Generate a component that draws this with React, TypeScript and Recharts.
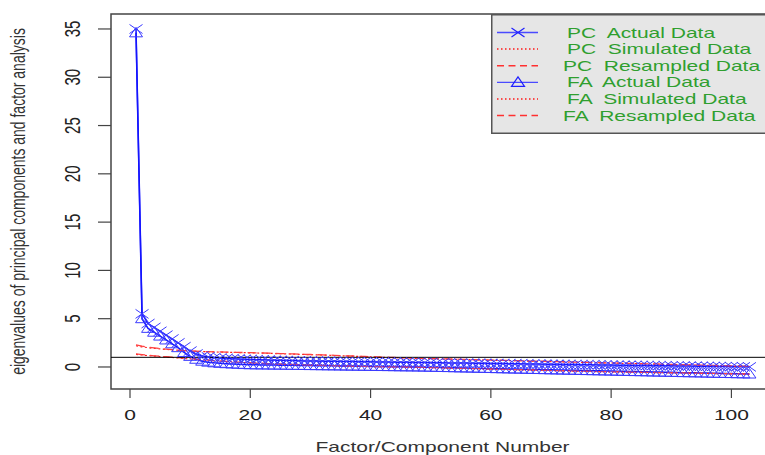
import React from 'react';
import { LineChart, Line, XAxis, YAxis, ReferenceLine, ReferenceArea, Legend } from 'recharts';

const pcActual = [
  35.0, 5.5, 4.5, 4.1, 3.7, 3.3, 2.9, 2.5, 2.1, 1.65, 1.35, 1.15,
  1.05, 0.98, 0.93, 0.89, 0.86, 0.83, 0.8, 0.78,
  0.76, 0.74, 0.72, 0.7, 0.69, 0.67, 0.66, 0.64, 0.63, 0.62,
  0.61, 0.6, 0.59, 0.585, 0.575, 0.565, 0.56, 0.55, 0.54, 0.535,
  0.525, 0.515, 0.51, 0.5, 0.49, 0.485, 0.475, 0.465, 0.46, 0.45,
  0.44, 0.435, 0.425, 0.415, 0.41, 0.4, 0.39, 0.385, 0.375, 0.365,
  0.36, 0.35, 0.34, 0.335, 0.325, 0.315, 0.31, 0.3, 0.29, 0.285,
  0.275, 0.265, 0.26, 0.25, 0.24, 0.235, 0.225, 0.215, 0.21, 0.2,
  0.19, 0.185, 0.175, 0.165, 0.16, 0.15, 0.14, 0.135, 0.125, 0.115,
  0.11, 0.1, 0.09, 0.085, 0.075, 0.065, 0.06, 0.05, 0.04, 0.035,
  0.025, 0.015, 0.01,
];

const pcSimulated = [
  2.2, 2.08, 2.0, 1.93, 1.87, 1.82, 1.77, 1.73, 1.69, 1.65, 1.62, 1.59,
  1.57, 1.555, 1.54, 1.525, 1.51, 1.495, 1.48, 1.465, 1.45, 1.435,
  1.415, 1.395, 1.375, 1.355, 1.335, 1.315, 1.295, 1.275, 1.255, 1.235,
  1.215, 1.19, 1.165, 1.145, 1.12, 1.095, 1.075, 1.05, 1.025, 1.005,
  0.985, 0.965, 0.945, 0.925, 0.905, 0.885, 0.87, 0.855, 0.84, 0.825,
  0.81, 0.795, 0.78, 0.765, 0.75, 0.735, 0.72, 0.705, 0.69, 0.675,
  0.66, 0.645, 0.63, 0.615, 0.6, 0.585, 0.57, 0.555, 0.54, 0.525,
  0.51, 0.495, 0.48, 0.465, 0.45, 0.435, 0.42, 0.405, 0.39, 0.375,
  0.36, 0.345, 0.33, 0.315, 0.3, 0.285, 0.27, 0.255, 0.24, 0.225,
  0.21, 0.195, 0.18, 0.165, 0.15, 0.135, 0.12, 0.105, 0.09, 0.075, 0.06,
];

const pcResampled = [
  2.3, 2.15, 2.05, 1.97, 1.9, 1.84, 1.79, 1.74, 1.7, 1.66, 1.63, 1.6,
  1.585, 1.57, 1.555, 1.54, 1.525, 1.51, 1.495, 1.48, 1.465, 1.45,
  1.43, 1.41, 1.39, 1.37, 1.35, 1.33, 1.31, 1.29, 1.27, 1.25,
  1.23, 1.205, 1.18, 1.16, 1.135, 1.11, 1.09, 1.065, 1.04, 1.02,
  1.0, 0.98, 0.96, 0.94, 0.92, 0.9, 0.885, 0.87, 0.855, 0.84,
  0.825, 0.81, 0.795, 0.78, 0.765, 0.75, 0.735, 0.72, 0.705, 0.69,
  0.675, 0.66, 0.645, 0.63, 0.615, 0.6, 0.585, 0.57, 0.555, 0.54,
  0.525, 0.51, 0.495, 0.48, 0.465, 0.45, 0.435, 0.42, 0.405, 0.39,
  0.375, 0.36, 0.345, 0.33, 0.315, 0.3, 0.285, 0.27, 0.255, 0.24,
  0.225, 0.21, 0.195, 0.18, 0.165, 0.15, 0.135, 0.12, 0.105, 0.09, 0.075,
];

const faActual = [
  34.6, 5.0, 4.0, 3.6, 3.2, 2.8, 2.4, 2.0, 1.5, 1.1, 0.8, 0.6,
  0.5, 0.43, 0.38, 0.34, 0.31, 0.28, 0.25, 0.23,
  0.22, 0.21, 0.205, 0.195, 0.19, 0.18, 0.17, 0.165, 0.155, 0.145,
  0.14, 0.13, 0.12, 0.115, 0.105, 0.095, 0.09, 0.08, 0.07, 0.065,
  0.055, 0.045, 0.04, 0.03, 0.02, 0.015, 0.005, 0.0,
  -0.015, -0.025, -0.04, -0.055, -0.065, -0.08, -0.095, -0.105, -0.12, -0.135,
  -0.145, -0.16, -0.175, -0.185, -0.2, -0.215, -0.225, -0.24, -0.255, -0.265,
  -0.28, -0.295, -0.305, -0.32, -0.335, -0.345, -0.36, -0.375, -0.385, -0.4,
  -0.41, -0.425, -0.44, -0.45, -0.465, -0.48, -0.49, -0.505, -0.52, -0.53,
  -0.545, -0.555, -0.57, -0.585, -0.595, -0.61, -0.62, -0.635, -0.65, -0.66,
  -0.675, -0.685, -0.7, -0.71, -0.73,
];

const faSimulated = [
  1.3, 1.24, 1.18, 1.13, 1.08, 1.03, 0.98, 0.93, 0.88, 0.83,
  0.78, 0.74, 0.7, 0.65, 0.61, 0.57, 0.53, 0.49, 0.46, 0.43,
  0.4, 0.37, 0.345, 0.32, 0.295, 0.27, 0.25, 0.23, 0.21, 0.19,
  0.175, 0.16, 0.145, 0.13, 0.115, 0.1, 0.085, 0.07, 0.055, 0.04,
  0.03, 0.02, 0.015, 0.01, 0.0, -0.005,
  -0.02, -0.035, -0.05, -0.065, -0.08, -0.095, -0.11, -0.125, -0.14, -0.155,
  -0.17, -0.185, -0.2, -0.215, -0.23, -0.245, -0.26, -0.275, -0.29, -0.305,
  -0.32, -0.335, -0.35, -0.365, -0.38, -0.395, -0.41, -0.425, -0.44, -0.455,
  -0.47, -0.485, -0.495, -0.505, -0.515, -0.525, -0.535, -0.545, -0.555, -0.565,
  -0.575, -0.585, -0.595, -0.605, -0.615, -0.625, -0.635, -0.645, -0.655, -0.665,
  -0.675, -0.685, -0.695, -0.705, -0.715, -0.725, -0.735,
];

const faResampled = [
  1.35, 1.28, 1.22, 1.16, 1.11, 1.06, 1.01, 0.96, 0.91, 0.86,
  0.81, 0.76, 0.71, 0.66, 0.62, 0.58, 0.54, 0.5, 0.47, 0.44,
  0.41, 0.38, 0.355, 0.33, 0.305, 0.28, 0.26, 0.24, 0.22, 0.2,
  0.18, 0.165, 0.15, 0.135, 0.12, 0.105, 0.09, 0.075, 0.06, 0.045,
  0.035, 0.025, 0.02, 0.015, 0.005, 0.0,
  -0.015, -0.03, -0.045, -0.06, -0.075, -0.09, -0.105, -0.12, -0.135, -0.15,
  -0.165, -0.18, -0.195, -0.21, -0.225, -0.24, -0.255, -0.27, -0.285, -0.3,
  -0.315, -0.33, -0.345, -0.36, -0.375, -0.39, -0.405, -0.42, -0.435, -0.45,
  -0.465, -0.48, -0.49, -0.5, -0.51, -0.52, -0.53, -0.54, -0.55, -0.56,
  -0.57, -0.58, -0.59, -0.6, -0.61, -0.62, -0.63, -0.64, -0.65, -0.66,
  -0.67, -0.68, -0.69, -0.7, -0.71, -0.72, -0.73,
];

const xTicks = [0, 20, 40, 60, 80, 100];
const yTicks = [0, 5, 10, 15, 20, 25, 30, 35];
const legendLabels = [
  'PC  Actual Data',
  'PC  Simulated Data',
  'PC  Resampled Data',
  'FA  Actual Data',
  'FA  Simulated Data',
  'FA  Resampled Data',
];

const X_DOMAIN: [number, number] = [-3.16, 107.08];
const Y_DOMAIN: [number, number] = [-2.28, 36.55];

const rows = pcActual.map((v, i) => ({
  comp: i + 1,
  pcActual: v,
  pcSimulated: pcSimulated[i],
  pcResampled: pcResampled[i],
  faActual: faActual[i],
  faSimulated: faSimulated[i],
  faResampled: faResampled[i],
}));

const FONT = '"Liberation Sans", Arial, Helvetica, sans-serif';
const SX = 1.5;
const BLUE = '#1414ff';
const MARK = '#3a3aff';
const RED = '#ff1a1a';
const DASHED = '9 5';
const DOTTED = '2 2.5';

const crossPath = (cx: number, cy: number) =>
  `M${cx - 6.5},${cy - 4.5}L${cx + 6.5},${cy + 4.5}M${cx - 6.5},${cy + 4.5}L${cx + 6.5},${cy - 4.5}`;
const triPath = (cx: number, cy: number) =>
  `M${cx},${cy - 5.5}L${cx + 6.5},${cy + 4}L${cx - 6.5},${cy + 4}Z`;

const CrossDot = (props: any) => {
  const { cx, cy, index } = props;
  if (cx == null || cy == null) return <g key={`c${index}`} />;
  return <path key={`c${index}`} d={crossPath(cx, cy)} stroke={MARK} strokeWidth={1} fill="none" />;
};
const TriDot = (props: any) => {
  const { cx, cy, index } = props;
  if (cx == null || cy == null) return <g key={`t${index}`} />;
  return <path key={`t${index}`} d={triPath(cx, cy)} stroke={MARK} strokeWidth={1} fill="none" />;
};

const XTick = (props: any) => {
  const { x, y, payload } = props;
  return (
    <text
      transform={`translate(${x},${y + 20}) scale(${SX},1)`}
      textAnchor="middle"
      fontFamily={FONT}
      fontSize={14}
      fill="#222"
    >
      {payload.value}
    </text>
  );
};

const YTick = (props: any) => {
  const { x, y, payload } = props;
  return (
    <text
      transform={`translate(${x - 16},${y}) scale(${SX},1) rotate(-90)`}
      textAnchor="middle"
      fontFamily={FONT}
      fontSize={15}
      fill="#222"
    >
      {payload.value}
    </text>
  );
};

const XTitle = (props: any) => {
  const vb = props.viewBox;
  return (
    <text
      transform={`translate(${vb.x + vb.width / 2},${vb.y + 63}) scale(${SX},1)`}
      textAnchor="middle"
      fontFamily={FONT}
      fontSize={14}
      fill="#333"
    >
      Factor/Component Number
    </text>
  );
};

const YTitle = (props: any) => {
  const vb = props.viewBox;
  return (
    <text
      transform={`translate(${vb.x - 26},${vb.y + vb.height / 2}) scale(${SX},1) rotate(-90)`}
      textAnchor="middle"
      fontFamily={FONT}
      fontSize={14}
      fill="#333"
    >
      eigenvalues of principal components and factor analysis
    </text>
  );
};

const LegendBox = () => {
  const kinds = ['cross', 'dotted', 'dashed', 'tri', 'dotted', 'dashed'];
  return (
    <svg width={290} height={120} style={{ display: 'block' }}>
      <rect x={0.75} y={0.75} width={300} height={118.5} fill="#e6e6e6" stroke="#555" strokeWidth={1.5} />
      {legendLabels.map((lab, i) => {
        const cy = 18.5 + i * 16.6;
        const k = kinds[i];
        const isRes = k === 'dashed';
        return (
          <g key={lab}>
            {k === 'cross' || k === 'tri' ? (
              <>
                <line x1={6} x2={47} y1={cy} y2={cy} stroke="#4a4aff" strokeWidth={1.3} />
                <path d={k === 'cross' ? crossPath(27, cy) : triPath(27, cy)} stroke="#2020ff" strokeWidth={1.2} fill="none" />
              </>
            ) : (
              <line
                x1={6}
                x2={47}
                y1={cy}
                y2={cy}
                stroke={k === 'dotted' ? RED : '#ff3030'}
                strokeWidth={1.5}
                strokeDasharray={k === 'dotted' ? '1.5 2.5' : '7 4.5'}
              />
            )}
            <text
              transform={`translate(${isRes ? 72 : 76},${cy + 5}) scale(${SX},1)`}
              fontFamily={FONT}
              fontSize={14}
              fill="#2f9f2f"
              style={{ whiteSpace: 'pre' }}
            >
              {lab}
            </text>
          </g>
        );
      })}
    </svg>
  );
};

export default function App() {
  return (
    <div style={{ position: 'absolute', left: 0, top: 0, width: 765, height: 455, overflow: 'hidden', background: '#fff' }}>
      <LineChart
        width={800}
        height={455}
        data={rows}
        margin={{ top: 14, right: 26, bottom: 26, left: 51 }}
      >
        <XAxis
          dataKey="comp"
          type="number"
          domain={X_DOMAIN}
          ticks={xTicks}
          allowDataOverflow
          axisLine={false}
          tickLine={{ stroke: '#444', strokeWidth: 1.2 }}
          tickSize={9}
          height={40}
          tick={<XTick />}
          label={<XTitle />}
        />
        <YAxis
          type="number"
          domain={Y_DOMAIN}
          ticks={yTicks}
          allowDataOverflow
          axisLine={false}
          tickLine={{ stroke: '#444', strokeWidth: 1.2 }}
          tickSize={13}
          width={60}
          tick={<YTick />}
          label={<YTitle />}
        />
        <ReferenceArea
          x1={X_DOMAIN[0]}
          x2={X_DOMAIN[1]}
          y1={Y_DOMAIN[0]}
          y2={Y_DOMAIN[1]}
          fill="none"
          stroke="#444"
          strokeWidth={1.5}
          ifOverflow="visible"
        />
        <Line dataKey="pcActual" type="linear" stroke={BLUE} strokeWidth={1.5} dot={CrossDot} activeDot={false} isAnimationActive={false} />
        <Line dataKey="faActual" type="linear" stroke={BLUE} strokeWidth={1.5} dot={TriDot} activeDot={false} isAnimationActive={false} />
        <Line dataKey="pcSimulated" type="linear" stroke={RED} strokeWidth={1.2} strokeDasharray={DOTTED} dot={false} activeDot={false} isAnimationActive={false} />
        <Line dataKey="pcResampled" type="linear" stroke="#ff4040" strokeWidth={1.3} strokeDasharray={DASHED} dot={false} activeDot={false} isAnimationActive={false} />
        <Line dataKey="faSimulated" type="linear" stroke={RED} strokeWidth={1.2} strokeDasharray={DOTTED} dot={false} activeDot={false} isAnimationActive={false} />
        <Line dataKey="faResampled" type="linear" stroke="#ff4040" strokeWidth={1.3} strokeDasharray={DASHED} dot={false} activeDot={false} isAnimationActive={false} />
        <ReferenceLine y={1} stroke="#000" strokeWidth={1} ifOverflow="visible" />
        <Legend
          layout="horizontal"
          verticalAlign="middle"
          align="center"
          content={<LegendBox />}
          wrapperStyle={{ position: 'absolute', left: 491, top: 14, width: 290, height: 120 }}
        />
      </LineChart>
    </div>
  );
}
